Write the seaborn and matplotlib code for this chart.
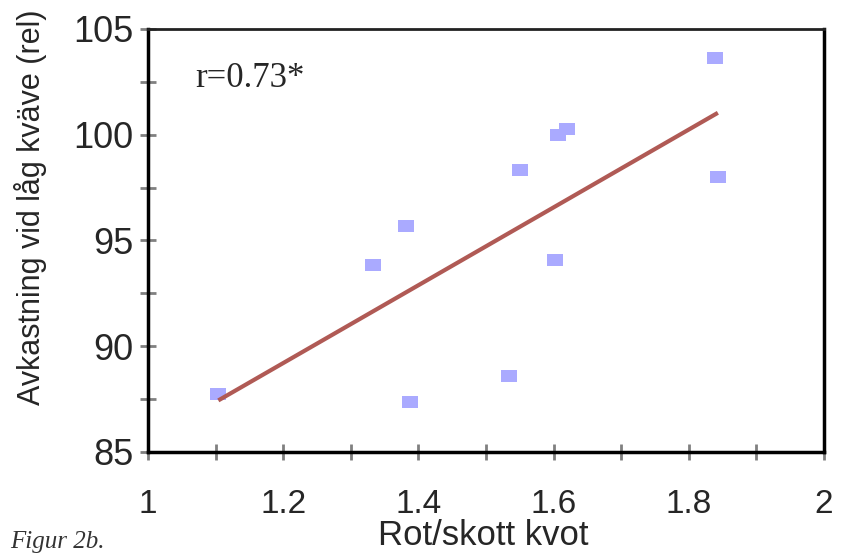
import numpy as np
import pandas as pd
import matplotlib
matplotlib.use("Agg")
import matplotlib.pyplot as plt
import seaborn as sns
from matplotlib.ticker import MultipleLocator

rot_skott = [1.104, 1.333, 1.382, 1.388, 1.534, 1.550, 1.602, 1.606, 1.620, 1.839, 1.843]
avkastning = [87.74, 93.84, 95.69, 87.36, 88.59, 98.33, 94.08, 99.99, 100.27, 103.63, 98.00]
x_ticks = [1, 1.2, 1.4, 1.6, 1.8, 2]
x_tick_labels = ["1", "1.2", "1.4", "1.6", "1.8", "2"]
y_ticks = [85, 90, 95, 100, 105]
y_tick_labels = ["85", "90", "95", "100", "105"]

df = pd.DataFrame({"x": rot_skott, "y": avkastning})

sns.set_style("white")
plt.rcParams["font.family"] = ["Liberation Sans", "DejaVu Sans"]

fig = plt.figure(figsize=(8.46, 5.55), dpi=100)
ax = fig.add_axes([148/846, 1-452/555, (824-148)/846, (452-29)/555])

rect = [(-1.3, -1), (1.3, -1), (1.3, 1), (-1.3, 1), (-1.3, -1)]
sns.regplot(data=df, x="x", y="y", ax=ax, ci=None, marker=rect,
            scatter_kws=dict(s=140, color="#aaaaff", linewidths=0, alpha=1),
            line_kws=dict(color="#b05a55", lw=3, solid_capstyle="butt"))

ax.set_xlim(1, 2)
ax.set_ylim(85, 105)
ax.set_xticks(x_ticks)
ax.set_xticklabels(x_tick_labels)
ax.set_yticks(y_ticks)
ax.set_yticklabels(y_tick_labels)
ax.xaxis.set_minor_locator(MultipleLocator(0.1))
ax.yaxis.set_minor_locator(MultipleLocator(2.5))

for side in ["left", "bottom", "right"]:
    ax.spines[side].set_visible(True)
    ax.spines[side].set_color("black")
    ax.spines[side].set_linewidth(2.5)
ax.spines["top"].set_visible(True)
ax.spines["top"].set_color("#222222")
ax.spines["top"].set_linewidth(2)

ax.tick_params(which="both", direction="inout", color="#808080", width=2,
               length=11, bottom=True, left=True, top=False, right=False)
ax.tick_params(axis="x", pad=21, labelsize=24)
ax.tick_params(axis="y", pad=5, labelsize=26)

ax.set_xlabel("Rot/skott kvot", fontsize=25)
ax.xaxis.label.set_va("baseline")
ax.xaxis.set_label_coords((483-148)/676, -(545-452)/423)
ax.set_ylabel("Avkastning vid låg kväve (rel)", fontsize=22)
ax.yaxis.set_label_coords((47-148)/676, (452-207)/423)

ax.text(0.07, 0.862, "r=0.73*", transform=ax.transAxes, fontsize=25,
        family=["Liberation Serif", "DejaVu Serif"])

fig.text(10/846, 1-548/555, "Figur 2b.", fontsize=18, style="italic",
         color="#333333", family=["Liberation Serif", "DejaVu Serif"])

fig.savefig("out.png", dpi=100)
